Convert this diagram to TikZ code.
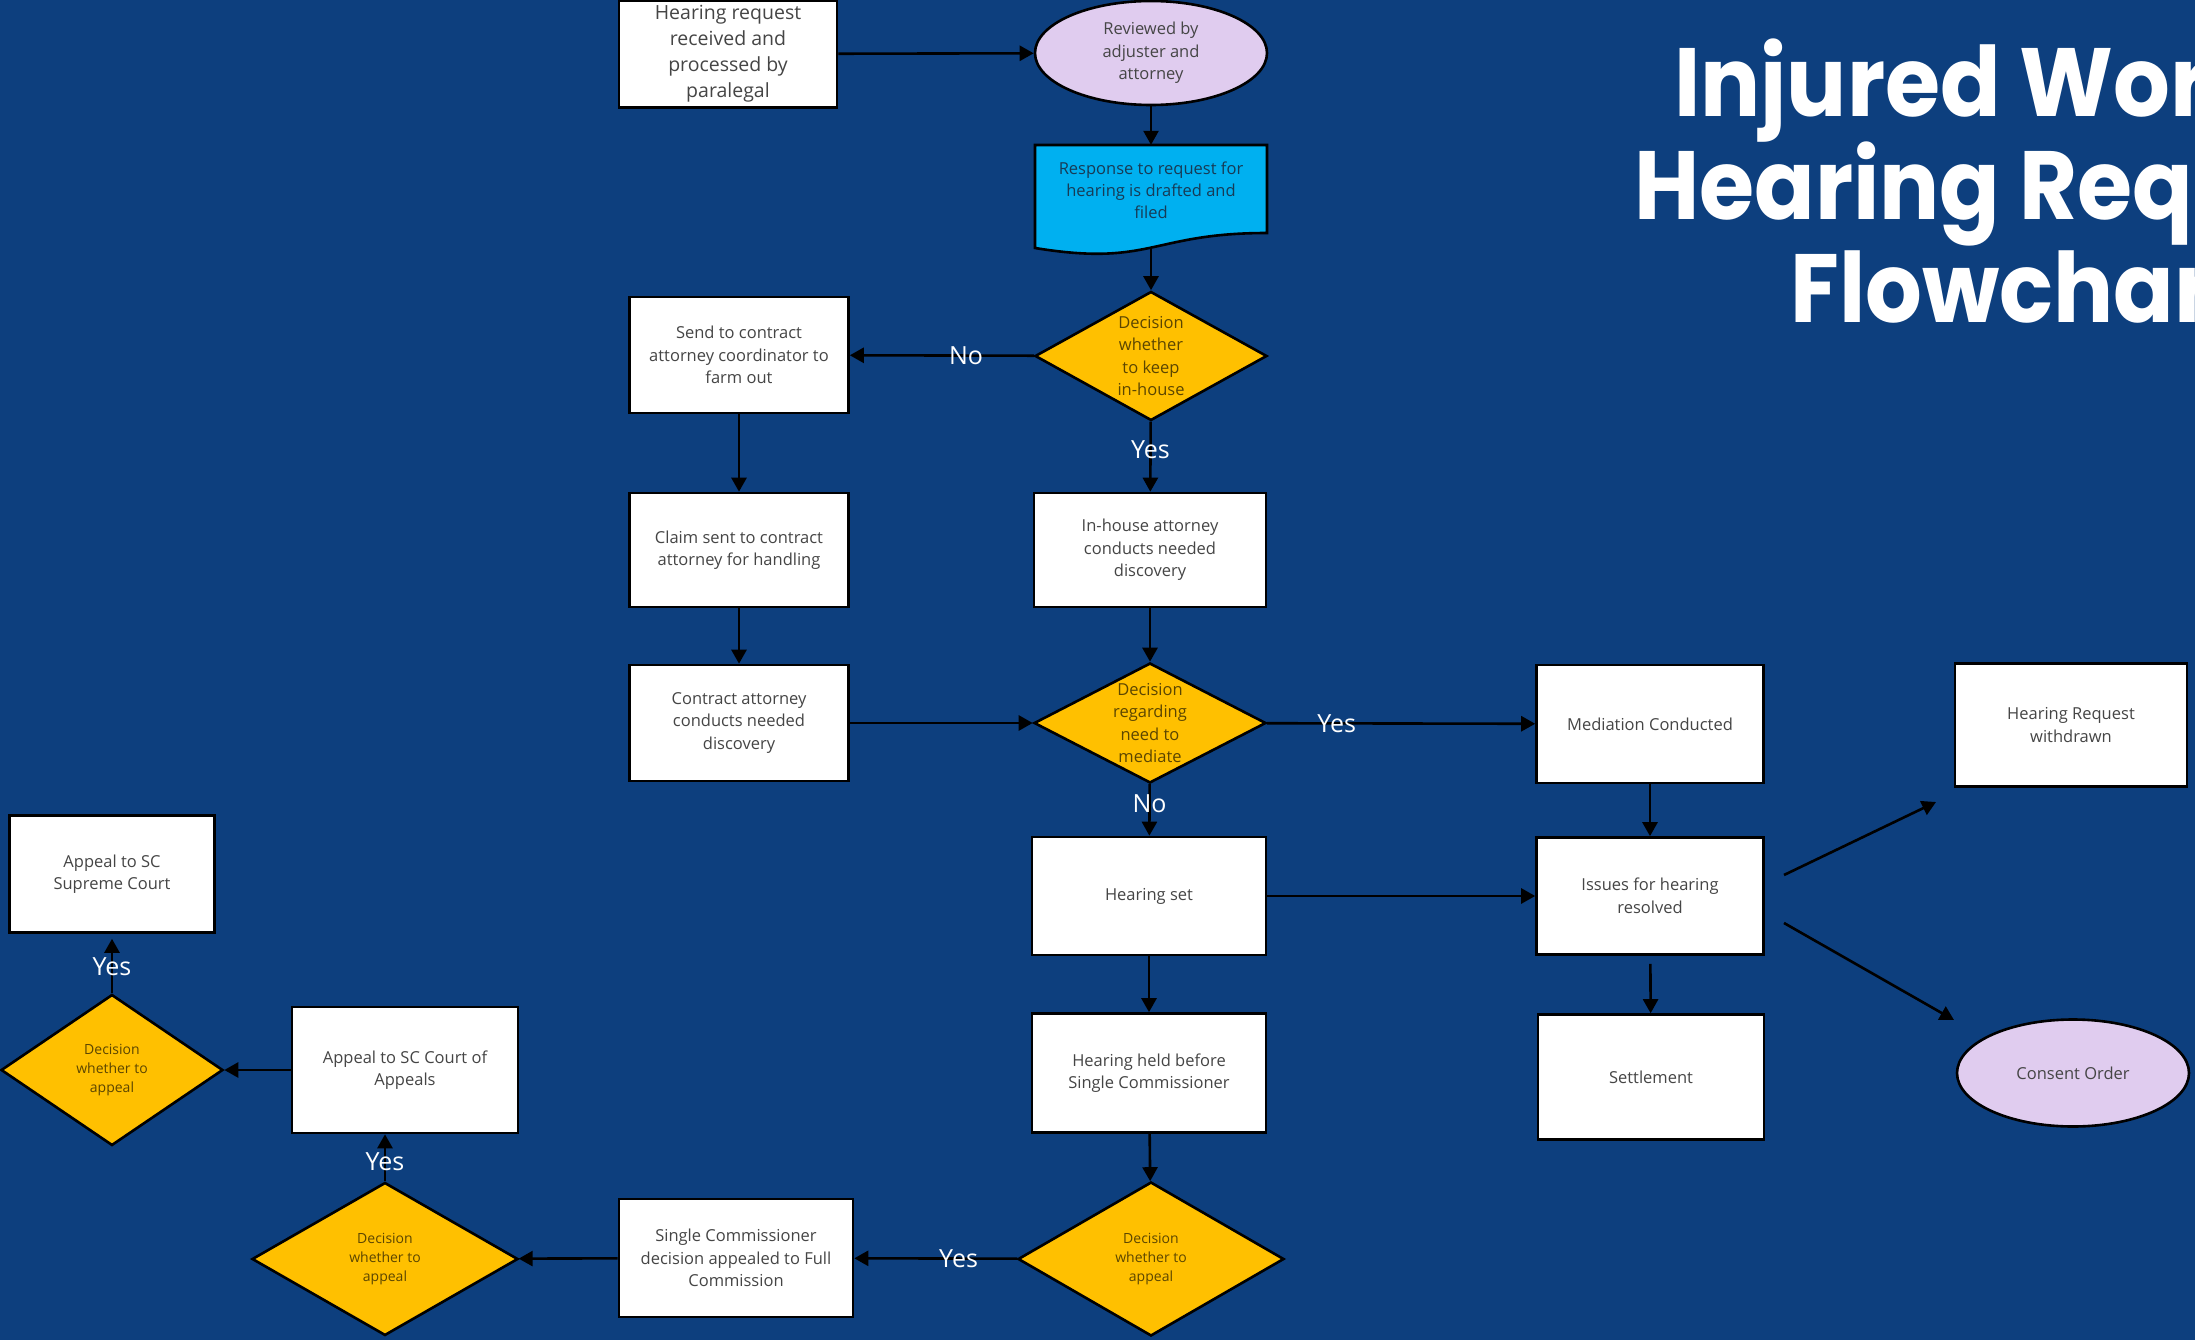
\documentclass[tikz,border=0pt]{standalone}
\usepackage{fontspec}
\setmainfont{Open Sans}
\newfontfamily\titlefont{Poppins}[FakeStretch=0.92]
\usetikzlibrary{shapes.geometric,arrows.meta,calc}

\definecolor{bg}{HTML}{0D3F7E}
\definecolor{gold}{HTML}{FFC000}
\definecolor{sky}{HTML}{00B0F0}
\definecolor{lilac}{HTML}{E0CCEF}
\definecolor{boxtext}{HTML}{454545}
\definecolor{goldtext}{HTML}{5C4600}
\definecolor{skytext}{HTML}{173B56}

\tikzset{
  box/.style={draw=black, line width=2.6pt, fill=white, align=center,
    inner sep=0pt, text=boxtext, font=\fontsize{16.5}{22.5}\selectfont},
  oval/.style={ellipse, draw=black, line width=2.6pt, fill=lilac, align=center,
    inner sep=0pt, text=boxtext, font=\fontsize{16.5}{22.5}\selectfont},
  decision/.style={diamond, draw=black, line width=2.6pt, fill=gold, inner sep=0pt},
  dtext/.style={text=goldtext, align=center, inner sep=0pt,
    font=\fontsize{16.5}{22.5}\selectfont},
  stext/.style={dtext, font=\fontsize{14}{19}\selectfont},
  doc/.style={draw=black, line width=2.6pt, fill=sky},
  doctext/.style={align=center, inner sep=0pt, text=skytext,
    font=\fontsize{16.5}{22}\selectfont},
  flow/.style={line width=2.6pt, -{Triangle[length=14pt,width=15pt]}},
  lbl/.style={text=white, inner sep=0pt, font=\fontsize{25}{28}\selectfont},
  headline/.style={text=white, anchor=base west, inner sep=0pt,
    font=\titlefont\bfseries\fontsize{97}{103}\selectfont}
}

\begin{document}
\begin{tikzpicture}[x=1pt,y=-1pt]
  % page and backdrop
  \path[use as bounding box] (0,0) rectangle (2195,1340);
  \clip (0,0) rectangle (2195,1340);
  \fill[bg] (0,0) rectangle (2195,1340);

  % heading
  \node[headline] (t1) at (1674,117) {Injured Worker};
  \node[headline] (t2) at (1634,220) {Hearing Request};
  \node[headline] (t3) at (1790,323) {Flowchart};

  % intake column
  \node[box, minimum width=218pt, minimum height=107pt,
        font=\fontsize{19.5}{26}\selectfont] (par) at (728,54)
        {Hearing request\\received and\\processed by\\paralegal};
  \node[oval, minimum width=232pt, minimum height=104pt] (rev) at (1151,53)
        {Reviewed by\\adjuster and\\attorney};

  % document shape for the filed response
  \filldraw[doc] (1035,145) -- (1267,145) -- (1267,233)
      .. controls (1151,233) and (1151,267) .. (1035,248) -- cycle;
  \node[doctext, minimum width=232pt, minimum height=90pt] (resp) at (1151,190)
        {Response to request for\\hearing is drafted and\\filed};
  \coordinate (respbot) at (1151,248);

  \node[decision, minimum width=232pt, minimum height=129pt,
        label={[dtext]center:Decision\\whether\\to keep\\in-house}] (d1) at (1151,356) {};
  \node[box, minimum width=219pt, minimum height=116pt] (send) at (739,355)
        {Send to contract\\attorney coordinator to\\farm out};
  \node[box, minimum width=219pt, minimum height=114pt] (claim) at (739,550)
        {Claim sent to contract\\attorney for handling};
  \node[box, minimum width=232pt, minimum height=114pt] (inhouse) at (1150,550)
        {In-house attorney\\conducts needed\\discovery};
  \node[box, minimum width=219pt, minimum height=116pt] (contract) at (739,723)
        {Contract attorney\\conducts needed\\discovery};
  \node[decision, minimum width=232pt, minimum height=120pt,
        label={[dtext]center:Decision\\regarding\\need to\\mediate}] (d2) at (1150,723) {};

  % mediation branch
  \node[box, minimum width=227pt, minimum height=118pt] (med) at (1650,724)
        {Mediation Conducted};
  \node[box, minimum width=227pt, minimum height=117pt] (issues) at (1650,896)
        {Issues for hearing\\resolved};
  \node[box, minimum width=226pt, minimum height=125pt] (settle) at (1651,1077)
        {Settlement};
  \node[box, minimum width=232pt, minimum height=123pt] (withdrawn) at (2071,725)
        {Hearing Request\\withdrawn};
  \node[oval, minimum width=232pt, minimum height=107pt] (consent) at (2073,1073)
        {Consent Order};

  % hearing and appeals
  \node[box, minimum width=234pt, minimum height=118pt] (hset) at (1149,896)
        {Hearing set};
  \node[box, minimum width=234pt, minimum height=119pt] (held) at (1149,1073)
        {Hearing held before\\Single Commissioner};
  \node[decision, minimum width=266pt, minimum height=154pt,
        label={[stext]center:Decision\\whether to\\appeal}] (d3) at (1151,1259) {};
  \node[box, minimum width=234pt, minimum height=118pt] (single) at (736,1258)
        {Single Commissioner\\decision appealed to Full\\Commission};
  \node[decision, minimum width=266pt, minimum height=153pt,
        label={[stext]center:Decision\\whether to\\appeal}] (d4) at (385,1259) {};
  \node[box, minimum width=226pt, minimum height=126pt] (court) at (405,1070)
        {Appeal to SC Court of\\Appeals};
  \node[decision, minimum width=222pt, minimum height=151pt,
        label={[stext]center:Decision\\whether to\\appeal}] (d5) at (112,1070) {};
  \node[box, minimum width=205pt, minimum height=117pt] (supreme) at (112,874)
        {Appeal to SC\\Supreme Court};

  % loose ends of the two outcome arrows
  \coordinate (wa) at (1784,875);
  \coordinate (wb) at (1936,802);
  \coordinate (ca) at (1784,923);
  \coordinate (cb) at (1954,1020);

  % connectors
  \draw[flow] (par) -- (rev);
  \draw[flow] (rev) -- (resp);
  \draw[flow] (respbot) -- (d1);
  \draw[flow] (d1) -- node[lbl, pos=0.37] {No} (send);
  \draw[flow] (d1) -- node[lbl, pos=0.40] {Yes} (inhouse);
  \draw[flow] (send) -- (claim);
  \draw[flow] (claim) -- (contract);
  \draw[flow] (contract) -- (d2);
  \draw[flow] (inhouse) -- (d2);
  \draw[flow] (d2) -- node[lbl, pos=0.26] {Yes} (med);
  \draw[flow] (d2) -- node[lbl, pos=0.37] {No} (hset);
  \draw[flow] (hset) -- (issues);
  \draw[flow] (med) -- (issues);
  \draw[flow, shorten <=8pt] (issues) -- (settle);
  \draw[flow] (wa) -- (wb);
  \draw[flow] (ca) -- (cb);
  \draw[flow] (hset) -- (held);
  \draw[flow] (held) -- (d3);
  \draw[flow] (d3) -- node[lbl, pos=0.36] {Yes} (single);
  \draw[flow] (single) -- (d4);
  \draw[flow] (d4.north) -- node[lbl, pos=0.41] {Yes} (court.south -| d4.north);
  \draw[flow] (court) -- (d5);
  \draw[flow, shorten >=5pt] (d5) -- node[lbl, pos=0.45] {Yes} (supreme);
\end{tikzpicture}
\end{document}
